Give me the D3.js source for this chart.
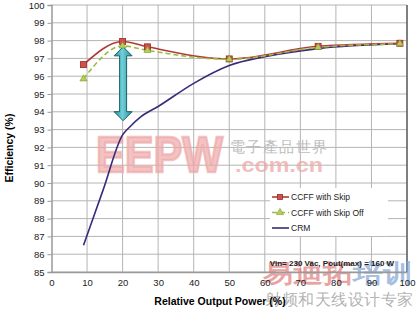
<!DOCTYPE html>
<html>
<head>
<meta charset="utf-8">
<script src="https://cdn.jsdelivr.net/npm/d3@7"></script>
<style>
  body { margin: 0; background: #fff; }
  text { font-family: "Liberation Sans", Arial, sans-serif; }
</style>
</head>
<body>
<div id="chart"></div>
<script>
// data
const skipX = [9, 20, 27, 50, 75, 98];
const skipY = [96.65, 97.95, 97.65, 96.97, 97.68, 97.85];
const skipOffX = [9, 20, 27, 50, 75, 98];
const skipOffY = [95.85, 97.7, 97.45, 96.95, 97.62, 97.82];
const crmX = [9, 14.5, 20, 22, 25, 30, 40, 50, 60, 75, 98];
const crmY = [86.5, 89.6, 92.7, 93.15, 93.7, 94.3, 95.6, 96.6, 97.1, 97.55, 97.82];
const xTicks = [0, 10, 20, 30, 40, 50, 60, 70, 80, 90, 100];
const yTicks = [85, 86, 87, 88, 89, 90, 91, 92, 93, 94, 95, 96, 97, 98, 99, 100];
const seriesNames = ['CCFF with Skip', 'CCFF with Skip Off', 'CRM'];
const noteText = 'Vin= 230 Vac, Pout(max) = 160 W';

const W = 418, H = 311;
const margin = { top: 5, right: 11, bottom: 39, left: 51.5 };
const width = W - margin.left - margin.right;
const height = H - margin.top - margin.bottom;

const svg = d3.select('#chart').append('svg')
    .attr('width', W)
    .attr('height', H);

const x = d3.scaleLinear().domain([0, 100]).range([margin.left, margin.left + width]);
const y = d3.scaleLinear().domain([85, 100]).range([margin.top + height, margin.top]);

// gridlines
svg.append('g').attr('class', 'grid')
    .selectAll('line.h').data(yTicks).join('line')
    .attr('x1', x(0)).attr('x2', x(100))
    .attr('y1', d => y(d)).attr('y2', d => y(d))
    .attr('stroke', '#b4b4b4').attr('stroke-width', 1);
svg.append('g').attr('class', 'grid')
    .selectAll('line.v').data(xTicks.slice(1)).join('line')
    .attr('x1', d => x(d)).attr('x2', d => x(d))
    .attr('y1', y(85)).attr('y2', y(100))
    .attr('stroke', '#b4b4b4').attr('stroke-width', 1);

// watermark (semi transparent, grid shows through)
const wm = svg.append('g').attr('class', 'watermark');
wm.append('text')
    .attr('x', 96).attr('y', 172)
    .attr('font-size', 50).attr('font-weight', 'bold')
    .attr('textLength', 127).attr('lengthAdjust', 'spacingAndGlyphs')
    .attr('fill', '#eea8a8').attr('fill-opacity', 0.7)
    .attr('stroke', '#eea8a8').attr('stroke-opacity', 0.7).attr('stroke-width', 2.5)
    .text('EEPW');
wm.append('text')
    .attr('x', 230).attr('y', 152)
    .attr('font-size', 15)
    .attr('textLength', 97)
    .attr('fill', '#bdbdbd')
    .attr('font-family', 'Noto Sans CJK TC')
    .text('電子產品世界');
wm.append('text')
    .attr('x', 235).attr('y', 172)
    .attr('font-size', 20).attr('font-weight', 'bold')
    .attr('textLength', 88).attr('lengthAdjust', 'spacingAndGlyphs')
    .attr('fill', '#eea8a8').attr('fill-opacity', 0.75)
    .text('.com.cn');

// right border
svg.append('line')
    .attr('x1', x(100)).attr('x2', x(100))
    .attr('y1', y(85)).attr('y2', y(100))
    .attr('stroke', '#444').attr('stroke-width', 1.2);

// lower watermark (under the note text)
const wm2 = svg.append('text')
    .attr('x', 263).attr('y', 282)
    .attr('font-size', 25).attr('font-weight', 'bold')
    .attr('textLength', 150).attr('lengthAdjust', 'spacingAndGlyphs')
    .attr('font-family', 'Noto Sans CJK SC')
    .attr('fill-opacity', 0.7);
wm2.append('tspan').attr('fill', '#e07a7a').text('易迪拓');
wm2.append('tspan').attr('fill', '#7fa3d4').text('培训');
svg.append('text')
    .attr('x', 265).attr('y', 305)
    .attr('font-size', 16)
    .attr('textLength', 148)
    .attr('font-family', 'Noto Sans CJK SC')
    .attr('fill', '#a0a0a0').attr('fill-opacity', 0.8)
    .text('射频和天线设计专家');

// axes
const xAxis = svg.append('g')
    .attr('transform', `translate(0, ${y(85)})`)
    .call(d3.axisBottom(x).tickValues(xTicks).tickSize(0).tickPadding(7));
const yAxis = svg.append('g')
    .attr('transform', `translate(${x(0)}, 0)`)
    .call(d3.axisLeft(y).tickValues(yTicks).tickSize(4).tickPadding(3));
[xAxis, yAxis].forEach(a => {
    a.select('.domain').attr('stroke', '#999').attr('stroke-width', 1.5);
    a.selectAll('.tick line').attr('stroke', '#999');
    a.selectAll('.tick text').attr('font-size', 9.5).attr('fill', '#222')
        .attr('font-family', '"Liberation Sans", Arial, sans-serif');
});

// axis titles
svg.append('text')
    .attr('transform', 'translate(13, 148) rotate(-90)')
    .attr('text-anchor', 'middle')
    .attr('font-size', 10.5).attr('font-weight', 'bold')
    .text('Efficiency (%)');
svg.append('text')
    .attr('x', 220).attr('y', 305)
    .attr('text-anchor', 'middle')
    .attr('font-size', 10.5).attr('font-weight', 'bold')
    .text('Relative Output Power (%)');

// double arrow annotation at 20 %
const ax = x(20) + 0.5, ay1 = y(97.65), ay2 = y(93.5);
const hw = 9, sw = 3.5, hh = 9;
const grad = svg.append('defs').append('linearGradient')
    .attr('id', 'arrowGrad').attr('x1', '0%').attr('x2', '100%');
grad.append('stop').attr('offset', '0%').attr('stop-color', '#2b8e9a');
grad.append('stop').attr('offset', '45%').attr('stop-color', '#6fd0da');
grad.append('stop').attr('offset', '100%').attr('stop-color', '#2b8e9a');
svg.append('path')
    .attr('d', `M${ax},${ay1} L${ax + hw},${ay1 + hh} L${ax + sw},${ay1 + hh}
      L${ax + sw},${ay2 - hh} L${ax + hw},${ay2 - hh} L${ax},${ay2}
      L${ax - hw},${ay2 - hh} L${ax - sw},${ay2 - hh} L${ax - sw},${ay1 + hh}
      L${ax - hw},${ay1 + hh} Z`)
    .attr('fill', 'url(#arrowGrad)')
    .attr('stroke', '#1d5f66').attr('stroke-width', 1);

// lines
const line = d3.line().x(d => x(d[0])).y(d => y(d[1])).curve(d3.curveMonotoneX);
const crmData = crmX.map((v, i) => [v, crmY[i]]);
const skipData = skipX.map((v, i) => [v, skipY[i]]);
const skipOffData = skipOffX.map((v, i) => [v, skipOffY[i]]);

svg.append('path').datum(crmData)
    .attr('d', line)
    .attr('fill', 'none').attr('stroke', '#3a2a7a').attr('stroke-width', 1.6);

svg.append('path').datum(skipData)
    .attr('d', line)
    .attr('fill', 'none').attr('stroke', '#b23a34').attr('stroke-width', 1.6);

svg.append('path').datum(skipOffData)
    .attr('d', line)
    .attr('fill', 'none').attr('stroke', '#9bbb3c').attr('stroke-width', 1.6)
    .attr('stroke-dasharray', '5,3');

// markers
svg.selectAll('rect.skip').data(skipData).join('rect')
    .attr('class', 'skip')
    .attr('x', d => x(d[0]) - 3).attr('y', d => y(d[1]) - 3)
    .attr('width', 6).attr('height', 6)
    .attr('fill', '#d0504a').attr('stroke', '#9a2a25').attr('stroke-width', 0.8);
const tri = d3.symbol().type(d3.symbolTriangle).size(22);
svg.selectAll('path.off').data(skipOffData).join('path')
    .attr('class', 'off')
    .attr('transform', d => `translate(${x(d[0])}, ${y(d[1])})`)
    .attr('d', tri)
    .attr('fill', '#b5cf5a').attr('stroke', '#7a9a2a').attr('stroke-width', 0.6);

// legend
const legend = svg.append('g').attr('transform', 'translate(270, 188)');
legend.append('rect')
    .attr('x', 0).attr('y', 0).attr('width', 118).attr('height', 48)
    .attr('fill', '#fff');
const legColors = ['#b23a34', '#9bbb3c', '#3a2a7a'];
seriesNames.forEach((name, i) => {
    const ly = 9 + i * 15.5;
    legend.append('line')
        .attr('x1', 2).attr('x2', 19).attr('y1', ly).attr('y2', ly)
        .attr('stroke', legColors[i]).attr('stroke-width', 1.6)
        .attr('stroke-dasharray', i === 1 ? '5,3' : null);
    if (i === 0) {
        legend.append('rect').attr('x', 7.5).attr('y', ly - 2.5).attr('width', 5).attr('height', 5)
            .attr('fill', '#d0504a').attr('stroke', '#9a2a25').attr('stroke-width', 0.8);
    } else if (i === 1) {
        legend.append('path').attr('transform', `translate(10, ${ly})`).attr('d', tri)
            .attr('fill', '#b5cf5a').attr('stroke', '#7a9a2a').attr('stroke-width', 0.6);
    }
    legend.append('text')
        .attr('x', 21).attr('y', ly + 3.3)
        .attr('font-size', 8.5).attr('fill', '#222')
        .text(name);
});

// bottom-right note
svg.append('text')
    .attr('x', 332).attr('y', 266)
    .attr('text-anchor', 'middle')
    .attr('font-size', 8).attr('font-weight', 'bold').attr('fill', '#222')
    .text(noteText);
</script>
</body>
</html>
